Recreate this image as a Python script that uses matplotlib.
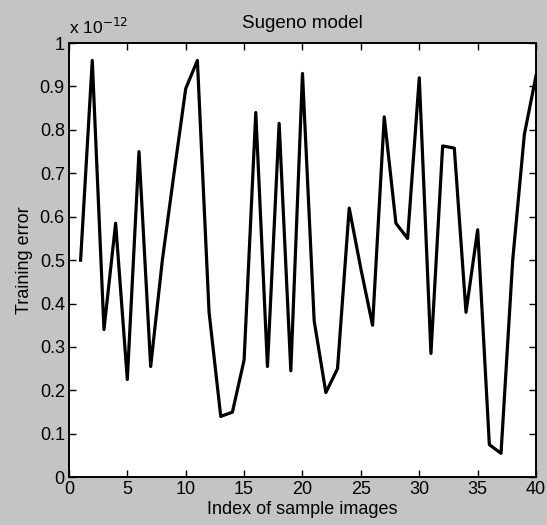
import numpy as np
import matplotlib.pyplot as plt

#==============================================================================
#DATA
#==============================================================================

# sample index
idx = np.arange(1, 41)

# training error, in units of 1e-12
err = [0.50, 0.96, 0.34, 0.585, 0.225, 0.75, 0.255, 0.50, 0.70, 0.895,
       0.96, 0.38, 0.14, 0.15, 0.27, 0.84, 0.255, 0.815, 0.245, 0.93,
       0.36, 0.195, 0.25, 0.62, 0.48, 0.35, 0.83, 0.585, 0.55, 0.92,
       0.285, 0.763, 0.758, 0.38, 0.57, 0.075, 0.055, 0.50, 0.79, 0.925]

xticks = [0, 5, 10, 15, 20, 25, 30, 35, 40]
yticks = np.round(np.arange(0, 1.01, 0.1), 1)
yticklabels = ['0', '0.1', '0.2', '0.3', '0.4', '0.5', '0.6', '0.7', '0.8', '0.9', '1']

#==============================================================================
#PLOT
#==============================================================================

plt.rcParams['font.family'] = ['Liberation Sans', 'DejaVu Sans']

f = plt.figure(figsize=(5.47, 5.25), dpi=100, facecolor='#c4c4c4')
ax = f.add_axes([0.126, 0.091, 0.854, 0.827])

ax.plot(idx, err, color='black', lw=2.3)

ax.set_xlim(0, 40)
ax.set_ylim(0, 1)
ax.set_xticks(xticks)
ax.set_yticks(yticks)
ax.set_yticklabels(yticklabels)
ax.tick_params(direction='in', top=True, right=True, length=5, width=1,
               labelsize=13, pad=3)
for s in ax.spines.values():
    s.set_linewidth(1.4)

ax.set_title('Sugeno model', fontsize=13.5, pad=11)
ax.set_xlabel('Index of sample images', fontsize=13, labelpad=2)
ax.set_ylabel('Training error', fontsize=13, labelpad=5)
ax.text(0.0, 1.015, r'x 10$^{-12}$', transform=ax.transAxes,
        fontsize=12.5, ha='left', va='bottom')

f.savefig('out.png', dpi=100, facecolor=f.get_facecolor())
